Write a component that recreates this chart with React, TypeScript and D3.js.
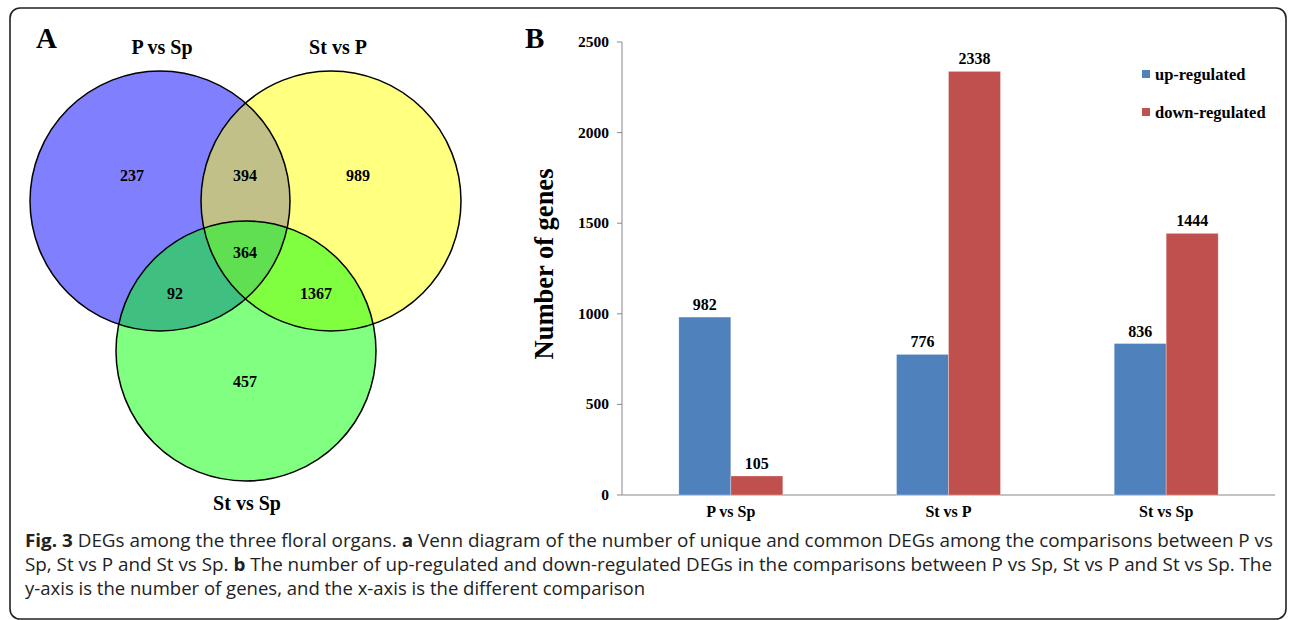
import React from "react";
import * as d3 from "d3";

const vennSets = ["P vs Sp", "St vs P", "St vs Sp"];
const vennCounts = [237, 989, 457, 394, 92, 1367, 364]; // A, B, C, AB, AC, BC, ABC
const categories = ["P vs Sp", "St vs P", "St vs Sp"];
const upValues = [982, 776, 836];
const downValues = [105, 2338, 1444];
const seriesNames = ["up-regulated", "down-regulated"];
const yTicks = [0, 500, 1000, 1500, 2000, 2500];

const serif = "'Liberation Serif', 'Times New Roman', serif";
const sans = "'Open Sans', 'Noto Sans', sans-serif";

export default function App() {
  const W = 1290, H = 620;
  const circles = [
    { cx: 160, cy: 201, r: 130, fill: "#8080ff" },
    { cx: 331, cy: 201, r: 130, fill: "#ffff80" },
    { cx: 246, cy: 351, r: 130, fill: "#80ff80" },
  ];
  const x0 = d3.scaleBand().domain(categories).range([622, 1275]).paddingInner(0).paddingOuter(0);
  const x1 = d3.scaleBand().domain(seriesNames).range([0, 104]);
  const y = d3.scaleLinear().domain([0, 2500]).range([495, 42]);
  const colors = ["#4f81bd", "#c0504d"];
  const series = [upValues, downValues];

  const circlePath = (c: any) => {
    const p = d3.path();
    p.arc(c.cx, c.cy, c.r, 0, Math.PI * 2);
    return p.toString();
  };

  const labelPos = [
    [132, 175], [358, 175], [245, 381], [245, 175], [175, 293], [316, 293], [245, 252],
  ];

  return (
    <svg width={W} height={H} style={{ position: "absolute", left: 0, top: 0 }} fontFamily={serif}>
      <defs>
        {circles.map((c, i) => (
          <clipPath id={`clip${i}`} key={i}>
            <path d={circlePath(c)} />
          </clipPath>
        ))}
      </defs>
      <rect x={0} y={0} width={W} height={H} fill="#fff" />
      <rect x={10} y={8} width={1276} height={611} rx={10} fill="none" stroke="#222" strokeWidth={1.6} />

      {/* Panel A */}
      <text x={36} y={48} fontSize={29} fontWeight="bold">A</text>
      {circles.map((c, i) => (
        <path key={i} d={circlePath(c)} fill={c.fill} />
      ))}
      <g clipPath="url(#clip0)">
        <path d={circlePath(circles[1])} fill="#c0c088" />
        <path d={circlePath(circles[2])} fill="#40c080" />
      </g>
      <g clipPath="url(#clip1)">
        <path d={circlePath(circles[2])} fill="#80ff40" />
      </g>
      <g clipPath="url(#clip0)">
        <g clipPath="url(#clip1)">
          <path d={circlePath(circles[2])} fill="#60e050" />
        </g>
      </g>
      {circles.map((c, i) => (
        <path key={"o" + i} d={circlePath(c)} fill="none" stroke="#000" strokeWidth={1.5} />
      ))}
      <text x={162} y={54} fontSize={20} fontWeight="bold" textAnchor="middle">{vennSets[0]}</text>
      <text x={338} y={54} fontSize={20} fontWeight="bold" textAnchor="middle">{vennSets[1]}</text>
      <text x={247} y={510} fontSize={20} fontWeight="bold" textAnchor="middle">{vennSets[2]}</text>
      {vennCounts.map((v, i) => (
        <text key={i} x={labelPos[i][0]} y={labelPos[i][1] + 6} fontSize={16} fontWeight="bold" textAnchor="middle">{v}</text>
      ))}

      {/* Panel B */}
      <text x={525} y={48} fontSize={29} fontWeight="bold">B</text>
      <line x1={622} x2={622} y1={y(2500)} y2={y(0)} stroke="#888" strokeWidth={1} />
      <line x1={622} x2={1275} y1={y(0)} y2={y(0)} stroke="#888" strokeWidth={1} />
      {yTicks.map((t) => (
        <g key={t}>
          <line x1={617} x2={622} y1={y(t)} y2={y(t)} stroke="#888" />
          <text x={609} y={y(t) + 5} fontSize={15.5} fontWeight="bold" textAnchor="end">{t}</text>
        </g>
      ))}
      {series.map((vals, si) =>
        categories.map((c, ci) => {
          const bx = (x0(c) as number) + (x0.bandwidth() - 104) / 2 + (x1(seriesNames[si]) as number);
          return (
            <g key={`${si}-${ci}`}>
              <rect x={bx} y={y(vals[ci])} width={x1.bandwidth()} height={y(0) - y(vals[ci])} fill={colors[si]} stroke="#fff" strokeWidth={0.6} strokeOpacity={0.5} />
              <text x={bx + x1.bandwidth() / 2} y={y(vals[ci]) - 7} fontSize={16} fontWeight="bold" textAnchor="middle">{vals[ci]}</text>
            </g>
          );
        })
      )}
      {categories.map((c) => (
        <text key={c} x={(x0(c) as number) + x0.bandwidth() / 2} y={517} fontSize={16} fontWeight="bold" textAnchor="middle">{c}</text>
      ))}
      <text transform="translate(553,264) rotate(-90)" fontSize={26.5} fontWeight="bold" textAnchor="middle">Number of genes</text>
      {seriesNames.map((s, i) => (
        <g key={s}>
          <rect x={1142} y={70 + i * 38} width={8} height={8} fill={colors[i]} />
          <text x={1155} y={80 + i * 38} fontSize={16.5} fontWeight="bold">{s}</text>
        </g>
      ))}

      {/* Caption */}
      <g fontFamily={sans} fontSize={18.5} fill="#222">
        <text x={25} y={547} textLength={1248} lengthAdjust="spacingAndGlyphs"><tspan fontWeight="bold">Fig. 3</tspan> DEGs among the three floral organs. <tspan fontWeight="bold">a</tspan> Venn diagram of the number of unique and common DEGs among the comparisons between P vs</text>
        <text x={25} y={571} textLength={1247} lengthAdjust="spacingAndGlyphs">Sp, St vs P and St vs Sp. <tspan fontWeight="bold">b</tspan> The number of up-regulated and down-regulated DEGs in the comparisons between P vs Sp, St vs P and St vs Sp. The</text>
        <text x={25} y={595} textLength={620} lengthAdjust="spacingAndGlyphs">y-axis is the number of genes, and the x-axis is the different comparison</text>
      </g>
    </svg>
  );
}
